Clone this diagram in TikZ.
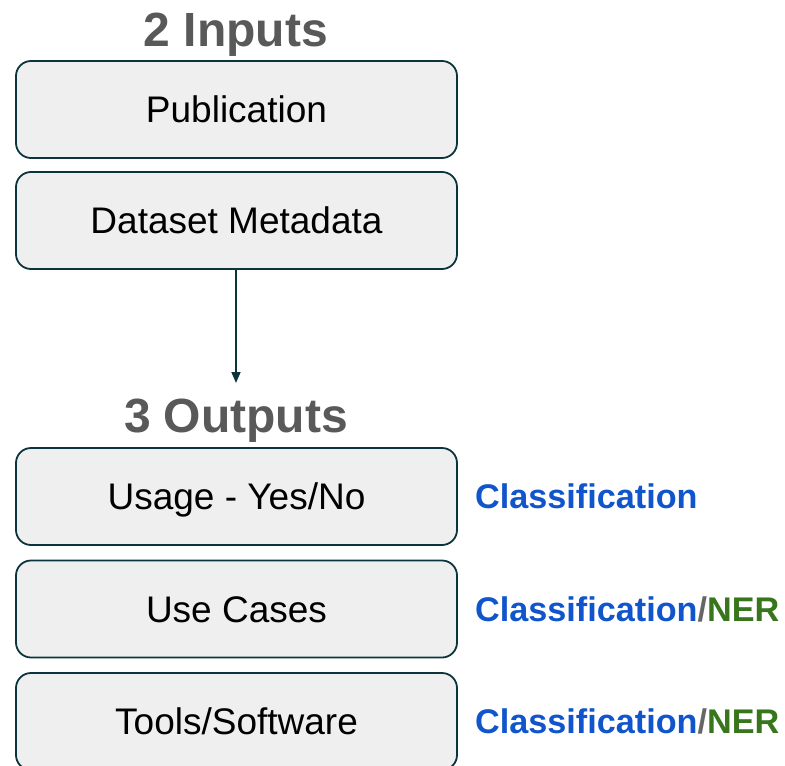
\documentclass[tikz,border=0pt]{standalone}
\usepackage{fontspec}
\setmainfont{Liberation Sans}
\usetikzlibrary{arrows.meta}
\definecolor{edge}{HTML}{0C343D}
\definecolor{boxfill}{HTML}{EFEFEF}
\definecolor{titlegray}{HTML}{595959}
\definecolor{clsblue}{HTML}{1155CC}
\definecolor{nergreen}{HTML}{38761D}
\definecolor{slashgray}{HTML}{666666}
\tikzset{
  stagebox/.style={draw=edge, fill=boxfill, line width=1.8bp, rounded corners=15bp,
    minimum width=441bp, minimum height=97bp, inner sep=0pt,
    font=\fontsize{37bp}{42bp}\selectfont, text height=26bp, text depth=0pt},
  titletext/.style={anchor=base, text=titlegray, inner sep=0pt,
    font=\fontsize{48bp}{54bp}\selectfont\bfseries},
  tasktext/.style={anchor=base west, inner sep=0pt,
    font=\fontsize{34.2bp}{40bp}\selectfont\bfseries},
  flow/.style={draw=edge, line width=1.6bp, -{Triangle[length=11bp,width=9bp]}}
}
\begin{document}
\begin{tikzpicture}[x=1bp,y=-1bp]
\useasboundingbox (0,0) rectangle (785,766);
\clip (0,0) rectangle (785,766);
\node[titletext] (tin) at (236,47) {2 Inputs};
\node[stagebox] (pub) at (236.5,109.5) {Publication};
\node[stagebox] (meta) at (236.5,220.5) {Dataset Metadata};
\coordinate (outtop) at (236,383);
\draw[flow] (meta.south -| outtop) -- (outtop);
\node[titletext] (tout) at (236,432) {3 Outputs};
\node[stagebox] (usage) at (236.5,496.5) {Usage - Yes/No};
\node[stagebox] (cases) at (236.5,609) {Use Cases};
\node[stagebox] (tools) at (236.5,721.5) {Tools/Software};
\node[tasktext] (t1) at (475,508.5) {\textcolor{clsblue}{Classification}};
\node[tasktext] (t2) at (475,621) {\textcolor{clsblue}{Classification}\textcolor{slashgray}{/}\textcolor{nergreen}{NER}};
\node[tasktext] (t3) at (475,733.5) {\textcolor{clsblue}{Classification}\textcolor{slashgray}{/}\textcolor{nergreen}{NER}};
\end{tikzpicture}
\end{document}
